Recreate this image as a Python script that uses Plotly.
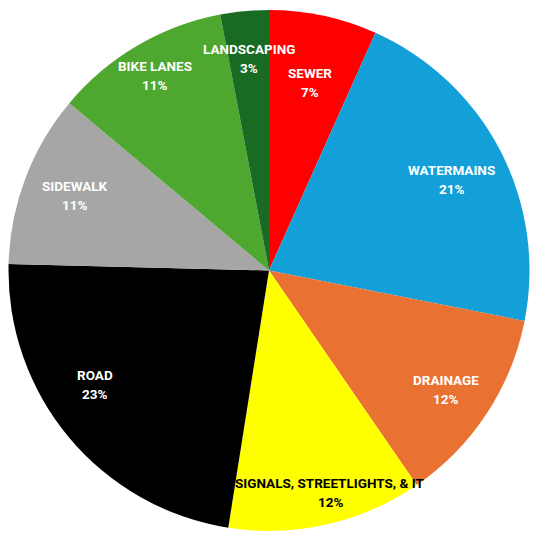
import math
import plotly.graph_objects as go

# ---- data ----
categories = ["SEWER", "WATERMAINS", "DRAINAGE", "SIGNALS, STREETLIGHTS, & IT",
              "ROAD", "SIDEWALK", "BIKE LANES", "LANDSCAPING"]
values = [6.7, 21.4, 12.3, 12.1, 22.9, 10.7, 10.9, 3.0]

# ---- style ----
colors = ["#FF0000", "#139FD7", "#E97132", "#FFFF00",
          "#000000", "#A6A6A6", "#4EA72E", "#196B24"]
text_colors = ["white", "white", "white", "black",
               "white", "white", "white", "white"]
label_radius = [0.74, 0.785, 0.82, 0.885, 0.80, 0.80, 0.87, 0.82]   # fraction of pie radius
label_angle_nudge = [0.3, 0.8, 0.7, -2.7, 6.6, 0.3, 0.1, 0.0]       # degrees

W, H = 543, 537
dom_x = [6 / W, 532 / W]
dom_y = [1 - 531 / H, 1 - 10 / H]

fig = go.Figure()
fig.add_trace(go.Pie(
    labels=categories,
    values=values,
    marker=dict(colors=colors, line=dict(width=0)),
    sort=False,
    direction="clockwise",
    rotation=0,
    textinfo="none",
    hoverinfo="label+percent",
    showlegend=False,
    domain=dict(x=dom_x, y=dom_y),
))

# label positions derived from the slice angles
cx = (dom_x[0] + dom_x[1]) / 2 * W
cy = (1 - (dom_y[0] + dom_y[1]) / 2) * H
R = 260
total = sum(values)
cum = 0.0
annotations = []
for i, (cat, v) in enumerate(zip(categories, values)):
    mid = (cum + v / 2) / total * 360 + label_angle_nudge[i]
    cum += v
    r = label_radius[i] * R
    px = cx + r * math.sin(math.radians(mid))
    py = cy - r * math.cos(math.radians(mid))
    pct = f"{round(v / total * 100)}%"
    for txt, shift in ((cat, 9.5), (pct, -9.5)):
        annotations.append(dict(
            x=px / W, y=1 - py / H, xref="paper", yref="paper",
            text=f"<b>{txt}</b>", showarrow=False, yshift=shift,
            xanchor="center", yanchor="middle",
            font=dict(family="Roboto", size=13.5, color=text_colors[i]),
        ))

fig.update_layout(
    width=W, height=H,
    margin=dict(l=0, r=0, t=0, b=0),
    paper_bgcolor="white",
    plot_bgcolor="white",
    annotations=annotations,
)

fig.write_html("out.html",
               config={"displayModeBar": False},
               post_script="document.body.style.margin='0';"
                           "document.body.style.overflow='hidden';")
